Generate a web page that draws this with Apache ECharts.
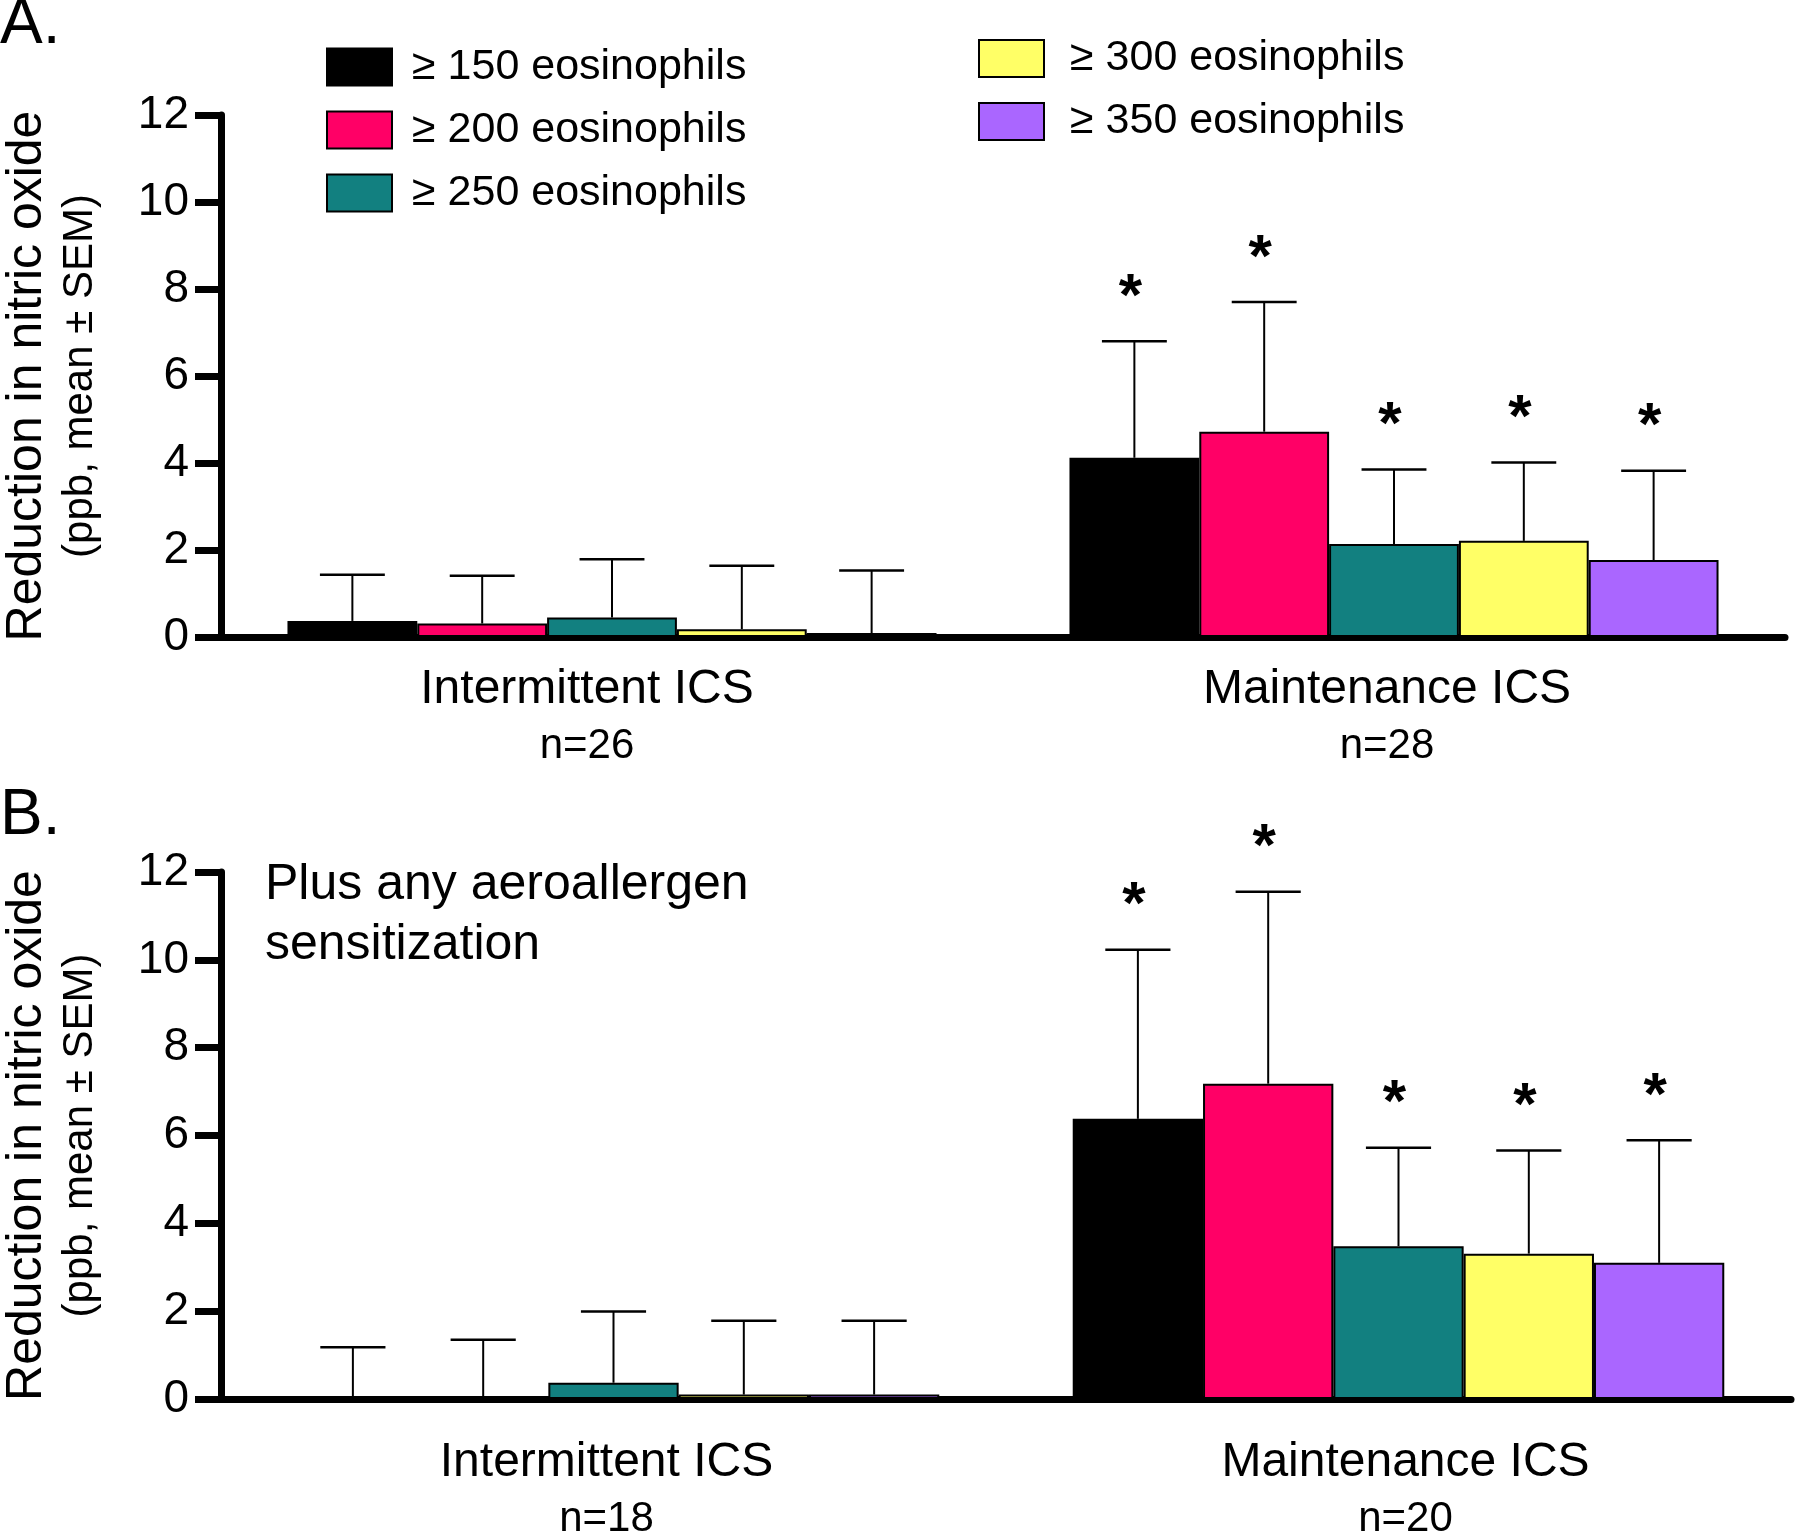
<!DOCTYPE html>
<html>
<head>
<meta charset="utf-8">
<script src="https://cdn.jsdelivr.net/npm/echarts@6/dist/echarts.min.js"></script>
<style>
html, body { margin: 0; padding: 0; background: #fff; }
#chart { width: 1800px; height: 1532px; }
</style>
</head>
<body>
<div id="chart"></div>
<script>
// categories and group sizes
const categories = ['Intermittent ICS', 'Maintenance ICS'];
const nA = [26, 28];
const nB = [18, 20];
const thresholds = ['≥ 150 eosinophils', '≥ 200 eosinophils', '≥ 250 eosinophils', '≥ 300 eosinophils', '≥ 350 eosinophils'];
const colors = ['#000000', '#ff0066', '#128080', '#ffff66', '#aa66ff'];
const yMin = 0, yMax = 12, yStep = 2;

// one row per threshold: [intermittent, maintenance]
const meanA = [[0.37, 4.12], [0.31, 4.72], [0.45, 2.14], [0.18, 2.21], [0.09, 1.77]];
const topA  = [[1.43, 6.80], [1.41, 7.70], [1.79, 3.85], [1.64, 4.01], [1.53, 3.82]];
const starA = [[0, 1], [0, 1], [0, 1], [0, 1], [0, 1]];

const meanB = [[0, 6.38], [0, 7.18], [0.37, 3.48], [0.1, 3.31], [0.1, 3.10]];
const topB  = [[1.18, 10.23], [1.35, 11.55], [1.99, 5.72], [1.78, 5.66], [1.78, 5.89]];
const starB = [[0, 1], [0, 1], [0, 1], [0, 1], [0, 1]];

const FONT = 'Liberation Sans';

// shifts (px) of the group labels in each panel, negative = left
function xAxisFor(gridIdx, ns, margin, shifts) {
    const rich = {};
    shifts.forEach(function (s, i) {
        const pad = s < 0 ? [0, -2 * s, 0, 0] : [0, 0, 0, 2 * s];
        rich['a' + i] = { fontFamily: FONT, fontSize: 48, lineHeight: 62, color: '#000', padding: pad };
        rich['b' + i] = { fontFamily: FONT, fontSize: 42, lineHeight: 50, color: '#000', padding: pad };
    });
    return {
        type: 'category',
        gridIndex: gridIdx,
        data: categories,
        axisTick: { show: false },
        axisLine: { lineStyle: { color: '#000', width: 7 } },
        axisLabel: {
            margin: margin,
            formatter: function (v, i) { return '{a' + i + '|' + v + '}\n{b' + i + '|n=' + ns[i] + '}'; },
            rich: rich
        }
    };
}

function yAxisFor(gridIdx) {
    return {
        type: 'value',
        gridIndex: gridIdx,
        min: yMin, max: yMax, interval: yStep,
        splitLine: { show: false },
        axisLine: { show: true, lineStyle: { color: '#000', width: 7 } },
        axisTick: { show: true, length: 26, lineStyle: { color: '#000', width: 7 } },
        axisLabel: { margin: 32, fontFamily: FONT, fontSize: 46, color: '#000' },
        name: '{a|Reduction in nitric oxide}\n{b|(ppb, mean ± SEM)}',
        nameLocation: 'middle',
        nameRotate: 90,
        nameGap: 116,
        nameTextStyle: {
            rich: {
                a: { fontFamily: FONT, fontSize: 50, lineHeight: 56, color: '#000' },
                b: { fontFamily: FONT, fontSize: 42, lineHeight: 50, color: '#000' }
            }
        }
    };
}

function barSeries(gridIdx, means) {
    return means.map(function (row, k) {
        return {
            name: thresholds[k],
            type: 'bar',
            xAxisIndex: gridIdx,
            yAxisIndex: gridIdx,
            data: row,
            barGap: '0%',
            barCategoryGap: '17%',
            itemStyle: { color: colors[k], borderColor: '#000', borderWidth: 2 }
        };
    });
}

// error bar (mean + SEM) with significance star
function errorSeries(gridIdx, means, tops, stars) {
    const data = [];
    for (let k = 0; k < means.length; k++) {
        for (let c = 0; c < categories.length; c++) {
            data.push([c, means[k][c], tops[k][c], k, stars[k][c]]);
        }
    }
    return {
        type: 'custom',
        xAxisIndex: gridIdx,
        yAxisIndex: gridIdx,
        z: 5,
        silent: true,
        data: data,
        encode: { x: 0, y: [1, 2] },
        renderItem: function (params, api) {
            const c = api.value(0), k = api.value(3);
            const layout = api.barLayout({ barGap: '0%', barCategoryGap: '17%', count: means.length });
            const base = api.coord([c, api.value(1)]);
            const top = api.coord([c, api.value(2)]);
            const x = base[0] + layout[k].offsetCenter;
            const half = layout[k].width / 4;
            const children = [
                { type: 'line', shape: { x1: x, y1: base[1], x2: x, y2: top[1] }, style: { stroke: '#000', lineWidth: 2 } },
                { type: 'line', shape: { x1: x - half, y1: top[1], x2: x + half, y2: top[1] }, style: { stroke: '#000', lineWidth: 2.5 } }
            ];
            if (api.value(4)) {
                children.push({
                    type: 'text', x: x - 4, y: top[1] - 43,
                    style: { text: '*', fontFamily: FONT, fontSize: 60, fontWeight: 'bold', align: 'center', verticalAlign: 'middle', fill: '#000' }
                });
            }
            return { type: 'group', children: children };
        }
    };
}

const legendText = { fontFamily: FONT, fontSize: 43, lineHeight: 44, color: '#000' };

const option = {
    animation: false,
    backgroundColor: '#fff',
    grid: [
        { left: 221, top: 115, width: 1564, height: 522, outerBoundsMode: 'none' },
        { left: 221, top: 872, width: 1570, height: 527, outerBoundsMode: 'none' }
    ],
    xAxis: [xAxisFor(0, nA, 22, [-25, -7]), xAxisFor(1, nB, 33, [-7, 7])],
    yAxis: [yAxisFor(0), yAxisFor(1)],
    legend: [
        {
            data: thresholds.slice(0, 3),
            orient: 'vertical', left: 321, top: 32,
            itemWidth: 65, itemHeight: 37, itemGap: 3,
            icon: 'rect', selectedMode: false,
            textStyle: Object.assign({ padding: [0, 0, 16, 15] }, legendText)
        },
        {
            data: thresholds.slice(3),
            orient: 'vertical', left: 973, top: 28,
            itemWidth: 65, itemHeight: 37, itemGap: 12,
            icon: 'rect', selectedMode: false,
            textStyle: Object.assign({ padding: [0, 0, 7, 21] }, legendText)
        }
    ],
    graphic: [
        { type: 'text', left: 0, top: -7, style: { text: 'A.', fontFamily: FONT, fontSize: 64, fill: '#000' } },
        { type: 'text', left: 0, top: 784, style: { text: 'B.', fontFamily: FONT, fontSize: 64, fill: '#000' } },
        { type: 'text', left: 265, top: 855, style: { text: 'Plus any aeroallergen\nsensitization', fontFamily: FONT, fontSize: 50, lineHeight: 60, fill: '#000' } }
    ],
    series: [].concat(
        barSeries(0, meanA),
        barSeries(1, meanB),
        [errorSeries(0, meanA, topA, starA), errorSeries(1, meanB, topB, starB)]
    )
};

const myChart = echarts.init(document.getElementById('chart'));
myChart.setOption(option);

window.addEventListener('resize', function () {
    myChart.resize();
});
</script>
</body>
</html>
